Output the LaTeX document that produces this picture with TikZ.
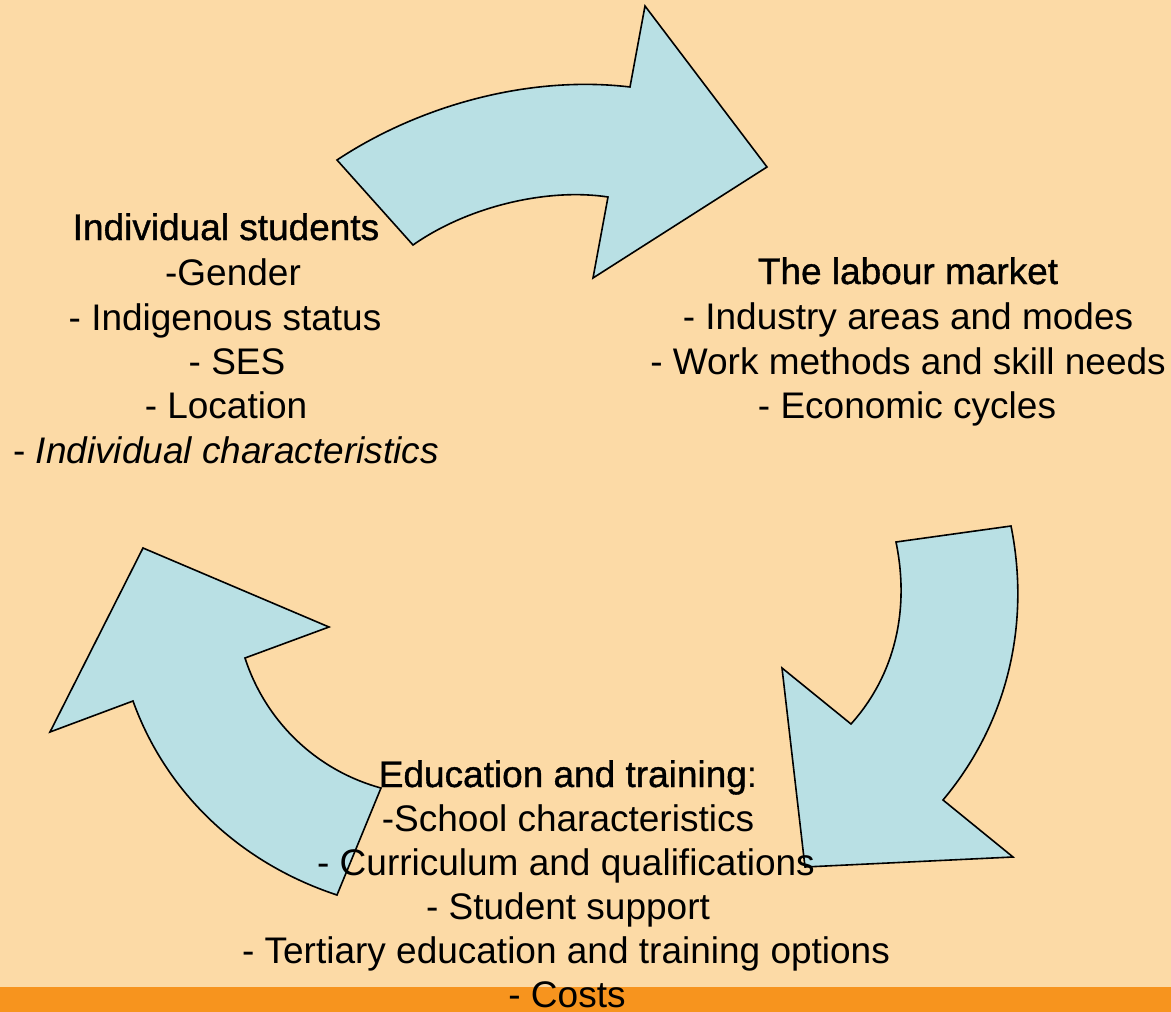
\documentclass[tikz,border=0pt]{standalone}
\usepackage{fontspec}
\setmainfont{Liberation Sans}
\newfontfamily\headfont{Liberation Sans}[FakeBold=1.0]
\definecolor{bgpeach}{RGB}{252,218,166}
\definecolor{barorange}{RGB}{247,148,30}
\definecolor{arrowblue}{RGB}{185,224,228}
\begin{document}
\begin{tikzpicture}[x=1pt,y=-1pt,
  arrowshape/.style={fill=arrowblue, draw=black, line width=1.6pt, line join=miter},
  txt/.style={anchor=base, inner sep=0pt, font=\fontsize{37}{44}\selectfont},
  headtxt/.style={anchor=base, inner sep=0pt, font=\fontsize{37}{44}\selectfont\headfont}]
\useasboundingbox (0,0) rectangle (1171,1012);
\fill[bgpeach] (0,0) rectangle (1171,1012);
\fill[barorange] (0,987) rectangle (1171,1012);
% arrows
\draw[arrowshape] (337,160) .. controls (420,105) and (530,75) .. (630,87) -- (645,6) -- (767,167) -- (593,278) -- (608,197) .. controls (550,188) and (470,205) .. (413,245) -- cycle;
\draw[arrowshape] (1011,526) .. controls (1030,620) and (1010,720) .. (943,800) -- (1013,857) -- (805,867) -- (782,668) -- (851,724) .. controls (895,675) and (910,610) .. (896,542) -- cycle;
\draw[arrowshape] (143,548) -- (329,627) -- (245,658) .. controls (265,720) and (315,770) .. (381,788) -- (337,895) .. controls (237,862) and (165,790) .. (133,701) -- (50,732) -- cycle;
% Individual students
\node[headtxt] (s0) at (226,240) {Individual students};
\node[txt] (s1) at (233,285) {-Gender};
\node[txt] (s2) at (225,330) {- Indigenous status};
\node[txt] (s3) at (237,374) {- SES};
\node[txt] (s4) at (226,418) {- Location};
\node[txt] (s5) at (226,463) {- \textit{Individual characteristics}};
% Labour market
\node[headtxt] (l0) at (908,284) {The labour market};
\node[txt] (l1) at (908,329) {- Industry areas and modes};
\node[txt] (l2) at (908,374) {- Work methods and skill needs};
\node[txt] (l3) at (907,418) {- Economic cycles};
% Education and training
\node[txt] (e0) at (568,787) {{\headfont Education and training}:};
\node[txt] (e1) at (568,831) {-School characteristics};
\node[txt] (e2) at (566,875) {- Curriculum and qualifications};
\node[txt] (e3) at (568,919) {- Student support};
\node[txt] (e4) at (566,963) {- Tertiary education and training options};
\node[txt] (e5) at (567,1007) {- Costs};
\end{tikzpicture}
\end{document}
